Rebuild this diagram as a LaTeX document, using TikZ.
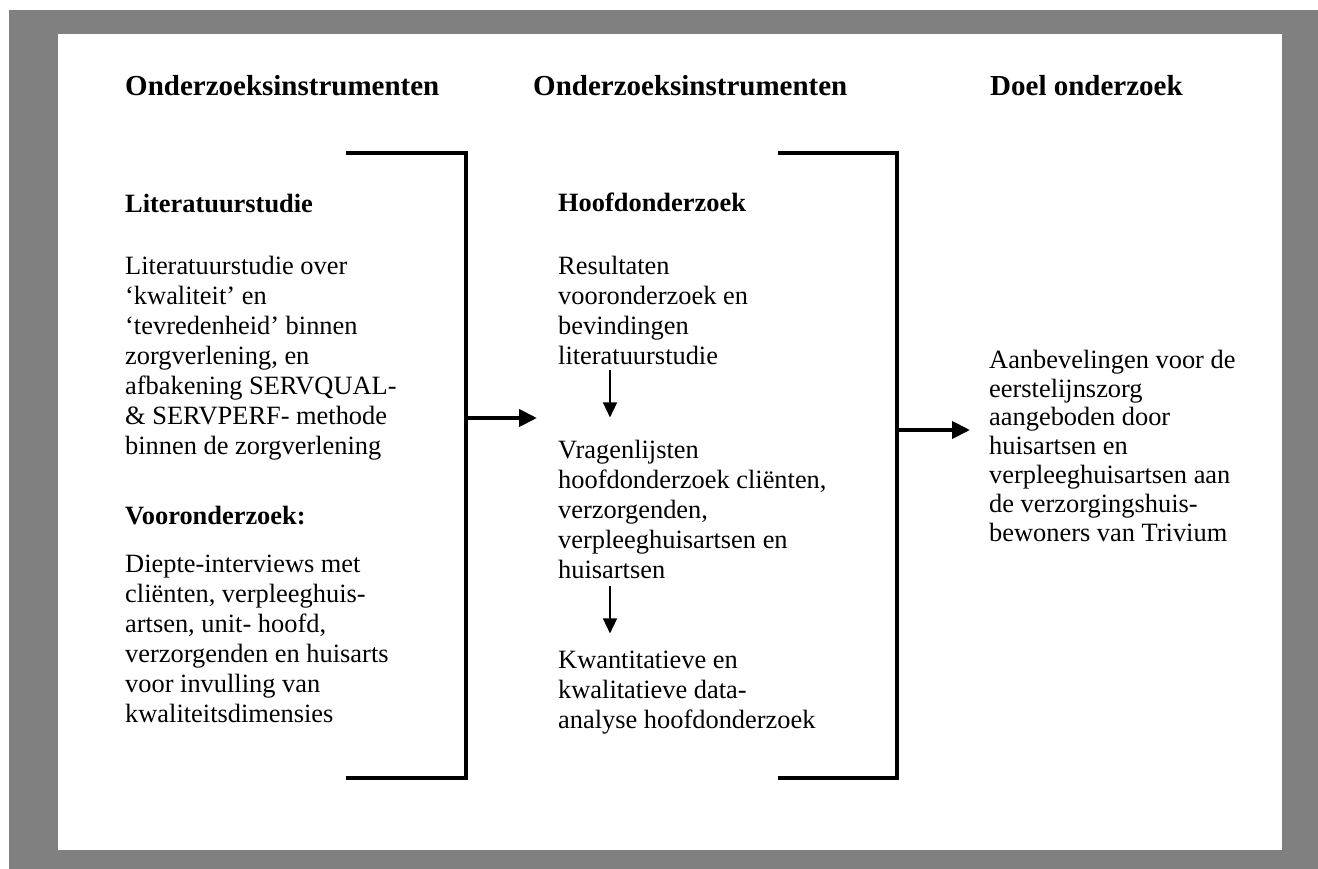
\documentclass[tikz,border=0pt]{standalone}
\usepackage{fontspec}
\setmainfont{Liberation Serif}
\usepackage{tikz}
\usetikzlibrary{
  arrows.meta,
  positioning
}
\definecolor{framegray}{RGB}{128, 128, 128}
\tikzset{
  colhead/.style = {
    anchor=base west, inner sep=0pt,
    font=\fontsize{29}{33}\selectfont\bfseries
  },
  subhead/.style = {
    anchor=base west, inner sep=0pt,
    font=\fontsize{26.4}{30}\selectfont\bfseries
  },
  % anchored at the baseline of the last line
  bodytext/.style = {
    anchor=base west, inner sep=0pt, align=left,
    font=\fontsize{26.4}{#1}\selectfont
  },
  bodytext/.default = 30,
  bracket/.style = {line width=4pt, line join=miter},
  bigarr/.style  = {-{Triangle[length=18pt, width=17pt]}, line width=4pt},
  smallarr/.style = {-{Triangle[length=15pt, width=14pt]}, line width=1.3pt},
}

\begin{document}
\begin{tikzpicture}[x=1pt, y=-1pt]

  %% ── Frame ──────────────────────────────────────────────────────────────
  \useasboundingbox (0,0) rectangle (1318,869);
  \fill[framegray] (9,10) rectangle (1318,869);
  \fill[white] (58,34) rectangle (1282,850);

  %% ── Column headings ────────────────────────────────────────────────────
  \node[colhead] (head1) at (125,96) {Onderzoeksinstrumenten};
  \node[colhead] (head2) at (533,96) {Onderzoeksinstrumenten};
  \node[colhead] (head3) at (990,96) {Doel onderzoek};

  %% ── Left column ────────────────────────────────────────────────────────
  \node[subhead] (litkop) at (125,213) {Literatuurstudie};
  \node[bodytext] (littxt) at (125,454)
    {Literatuurstudie over\\
     ‘kwaliteit’ en\\
     ‘tevredenheid’ binnen\\
     zorgverlening, en\\
     afbakening SERVQUAL-\\
     \& SERVPERF- methode\\
     binnen de zorgverlening};
  \node[subhead] (voorkop) at (125,524) {Vooronderzoek:};
  \node[bodytext] (voortxt) at (125,722)
    {Diepte-interviews met\\
     cliënten, verpleeghuis-\\
     artsen, unit- hoofd,\\
     verzorgenden en huisarts\\
     voor invulling van\\
     kwaliteitsdimensies};

  %% ── Middle column ──────────────────────────────────────────────────────
  \node[subhead] (hoofdkop) at (558,212) {Hoofdonderzoek};
  \node[bodytext] (resul) at (558,364)
    {Resultaten\\
     vooronderzoek en\\
     bevindingen\\
     literatuurstudie};
  \node[bodytext] (vragen) at (558,578)
    {Vragenlijsten\\
     hoofdonderzoek cliënten,\\
     verzorgenden,\\
     verpleeghuisartsen en\\
     huisartsen};
  \node[bodytext] (analyse) at (558,728)
    {Kwantitatieve en\\
     kwalitatieve data-\\
     analyse hoofdonderzoek};

  %% ── Right column ───────────────────────────────────────────────────────
  \node[bodytext=28.8] (advies) at (989,541)
    {Aanbevelingen voor de\\
     eerstelijnszorg\\
     aangeboden door\\
     huisartsen en\\
     verpleeghuisartsen aan\\
     de verzorgingshuis-\\
     bewoners van Trivium};

  %% ── Brackets ───────────────────────────────────────────────────────────
  \draw[bracket] (346,153) -- (466,153) -- (466,778) -- (346,778);
  \draw[bracket] (778,153) -- (897,153) -- (897,778) -- (778,778);
  \coordinate (lbr_mid) at (466,418);
  \coordinate (mid_in)  at (537,418);
  \coordinate (rbr_mid) at (897,430);
  \coordinate (right_in) at (970,430);

  %% ── Arrows ─────────────────────────────────────────────────────────────
  \draw[bigarr] (lbr_mid) -- (mid_in);
  \draw[bigarr] (rbr_mid) -- (right_in);
  \draw[smallarr] ([xshift=52pt, yshift=-6pt]resul.south west) -- ++(0,47);
  \draw[smallarr] ([xshift=52pt, yshift=-8pt]vragen.south west) -- ++(0,47);

\end{tikzpicture}
\end{document}
